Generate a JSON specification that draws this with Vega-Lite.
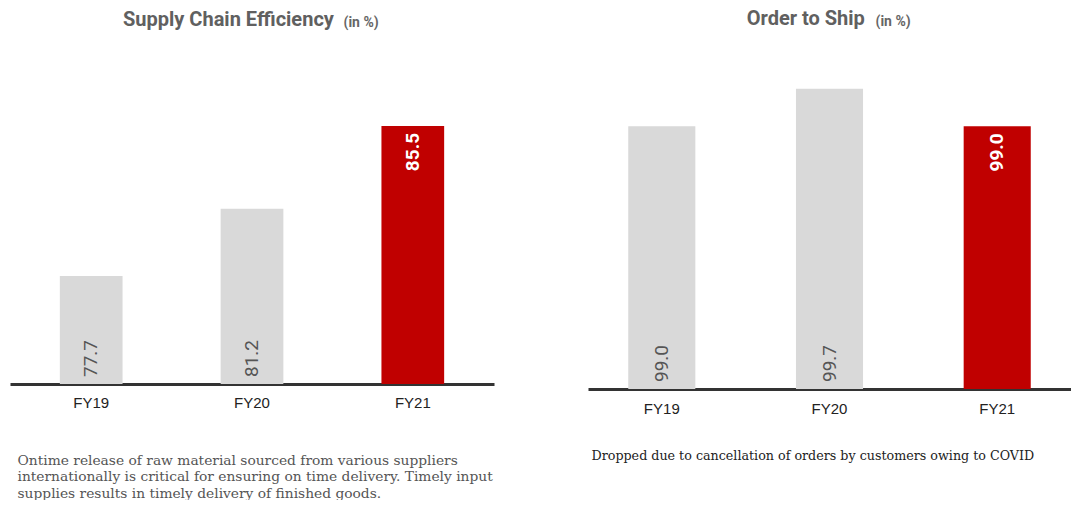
{
  "$schema": "https://vega.github.io/schema/vega-lite/v6.json",
  "background": "white",
  "padding": {"left": 10, "top": 9, "right": 0, "bottom": 0},
  "bounds": "flush",
  "spacing": 94,
  "config": {"view": {"stroke": null}},
  "datasets": {
    "sce": [
      {"year": "FY19", "value": 77.7, "highlight": "no"},
      {"year": "FY20", "value": 81.2, "highlight": "no"},
      {"year": "FY21", "value": 85.5, "highlight": "yes"}
    ],
    "ots": [
      {"year": "FY19", "value": 99.0, "highlight": "no"},
      {"year": "FY20", "value": 99.7, "highlight": "no"},
      {"year": "FY21", "value": 99.0, "highlight": "yes"}
    ]
  },
  "hconcat": [
    {
      "width": 484,
      "height": 344,
      "data": {"name": "sce"},
      "title": {"text": "Supply Chain Efficiency", "anchor": "start", "dx": 113, "font": "Roboto", "fontSize": 20, "fontWeight": "bold", "color": "#606060", "offset": -15},
      "encoding": {
        "x": {
          "field": "year", "type": "nominal", "sort": null,
          "scale": {"paddingInner": 0.61, "paddingOuter": 0.31},
          "axis": {
            "title": ["Ontime release of raw material sourced from various suppliers", "internationally is critical for ensuring on time delivery. Timely input", "supplies results in timely delivery of finished goods."],
            "titleAnchor": "start", "titleAlign": "left", "titleBaseline": "alphabetic", "titleX": 7, "titleY": 80,
            "titleFont": "DejaVu Serif", "titleFontSize": 13.8, "titleFontWeight": "normal", "titleColor": "#555555", "titleLineHeight": 16.5,
            "labelAngle": 0, "labelFont": "Liberation Sans", "labelFontSize": 15, "labelColor": "#222222", "labelPadding": 11,
            "ticks": false, "domainColor": "#333333", "domainWidth": 3, "grid": false
          }
        },
        "y": {
          "type": "quantitative",
          "scale": {"domain": [72.08, 89.97], "nice": false, "zero": false},
          "axis": {
            "title": "(in %)", "titleAngle": 0, "titleX": 333, "titleY": -14, "titleAlign": "left", "titleBaseline": "alphabetic",
            "titleFont": "Roboto", "titleFontSize": 14, "titleFontWeight": "bold", "titleColor": "#666666",
            "labels": false, "ticks": false, "domain": false, "grid": false
          }
        }
      },
      "layer": [
        {
          "mark": {"type": "bar"},
          "encoding": {
            "y": {"field": "value", "type": "quantitative"},
            "y2": {"datum": 72.08},
            "color": {"field": "highlight", "type": "nominal", "scale": {"domain": ["no", "yes"], "range": ["#d9d9d9", "#c00000"]}, "legend": null}
          }
        },
        {
          "transform": [{"filter": "datum.highlight == 'no'"}],
          "mark": {"type": "text", "angle": 270, "align": "left", "baseline": "middle", "dx": 7, "font": "Roboto", "fontSize": 19, "color": "#555555"},
          "encoding": {
            "y": {"datum": 72.08, "type": "quantitative"},
            "text": {"field": "value", "type": "quantitative", "format": ".1f"}
          }
        },
        {
          "transform": [{"filter": "datum.highlight == 'yes'"}],
          "mark": {"type": "text", "angle": 270, "align": "right", "baseline": "middle", "dx": -7, "font": "Roboto", "fontSize": 19, "fontWeight": "bold", "color": "#ffffff"},
          "encoding": {
            "y": {"field": "value", "type": "quantitative"},
            "text": {"field": "value", "type": "quantitative", "format": ".1f"}
          }
        }
      ]
    },
    {
      "width": 483,
      "height": 349,
      "data": {"name": "ots"},
      "title": {"text": "Order to Ship", "anchor": "start", "dx": 158.7, "font": "Roboto", "fontSize": 20, "fontWeight": "bold", "color": "#606060", "offset": -15},
      "encoding": {
        "x": {
          "field": "year", "type": "nominal", "sort": null,
          "scale": {"paddingInner": 0.6, "paddingOuter": 0.24},
          "axis": {
            "title": "Dropped due to cancellation of orders by customers owing to COVID",
            "titleAnchor": "start", "titleAlign": "left", "titleBaseline": "alphabetic", "titleX": 3, "titleY": 70,
            "titleFont": "DejaVu Serif", "titleFontSize": 12.7, "titleFontWeight": "normal", "titleColor": "#222222",
            "labelAngle": 0, "labelFont": "Liberation Sans", "labelFontSize": 15, "labelColor": "#222222", "labelPadding": 12,
            "ticks": false, "domainColor": "#333333", "domainWidth": 3, "grid": false
          }
        },
        "y": {
          "type": "quantitative",
          "scale": {"domain": [94.08, 100.615], "nice": false, "zero": false},
          "axis": {
            "title": "(in %)", "titleAngle": 0, "titleX": 287, "titleY": -15, "titleAlign": "left", "titleBaseline": "alphabetic",
            "titleFont": "Roboto", "titleFontSize": 14, "titleFontWeight": "bold", "titleColor": "#666666",
            "labels": false, "ticks": false, "domain": false, "grid": false
          }
        }
      },
      "layer": [
        {
          "mark": {"type": "bar"},
          "encoding": {
            "y": {"field": "value", "type": "quantitative"},
            "y2": {"datum": 94.08},
            "color": {"field": "highlight", "type": "nominal", "scale": {"domain": ["no", "yes"], "range": ["#d9d9d9", "#c00000"]}, "legend": null}
          }
        },
        {
          "transform": [{"filter": "datum.highlight == 'no'"}],
          "mark": {"type": "text", "angle": 270, "align": "left", "baseline": "middle", "dx": 7, "font": "Roboto", "fontSize": 19, "color": "#555555"},
          "encoding": {
            "y": {"datum": 94.08, "type": "quantitative"},
            "text": {"field": "value", "type": "quantitative", "format": ".1f"}
          }
        },
        {
          "transform": [{"filter": "datum.highlight == 'yes'"}],
          "mark": {"type": "text", "angle": 270, "align": "right", "baseline": "middle", "dx": -7, "font": "Roboto", "fontSize": 19, "fontWeight": "bold", "color": "#ffffff"},
          "encoding": {
            "y": {"field": "value", "type": "quantitative"},
            "text": {"field": "value", "type": "quantitative", "format": ".1f"}
          }
        }
      ]
    }
  ],
  "resolve": {"scale": {"color": "independent"}}
}
